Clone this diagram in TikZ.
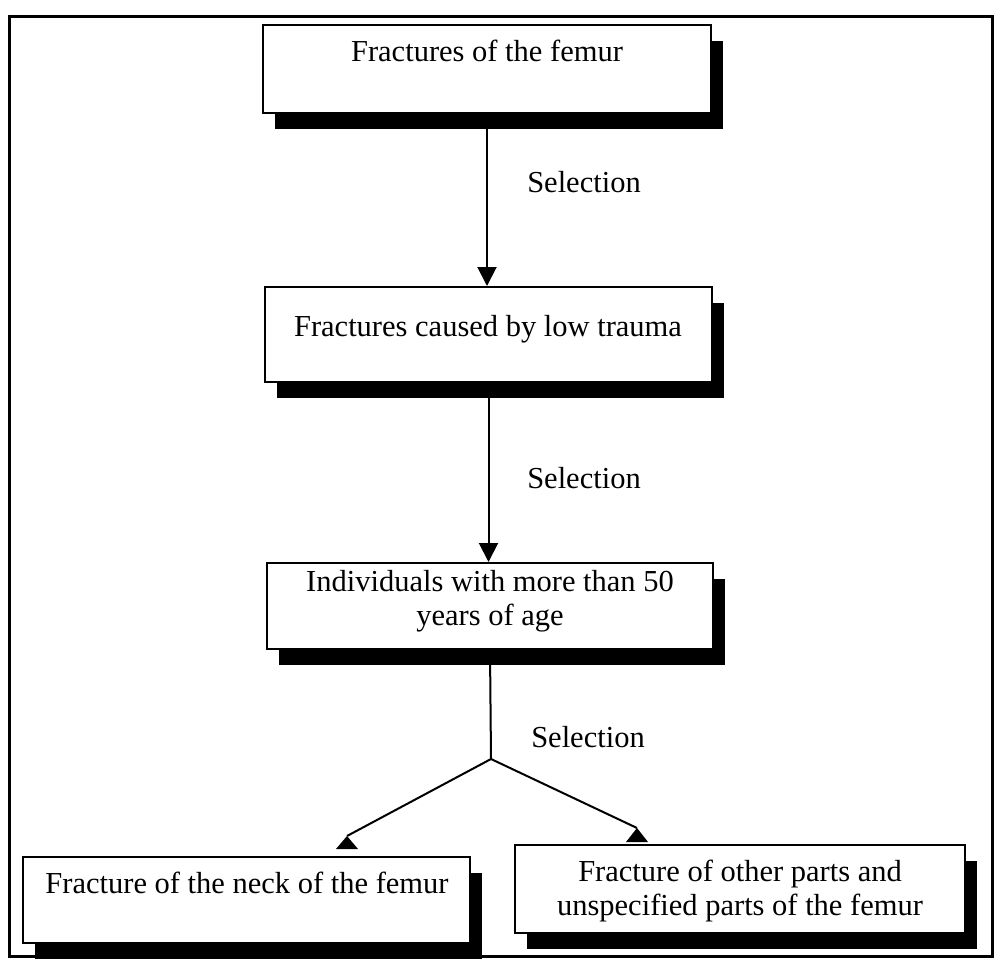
\documentclass[tikz,border=0pt]{standalone}
\usepackage{fontspec}
\setmainfont{Liberation Serif}
\usetikzlibrary{arrows.meta,shadows}
\begin{document}
\begin{tikzpicture}[x=1pt,y=-1pt,
  stagebox/.style={draw=black, line width=2pt, fill=white, inner sep=0pt,
    drop shadow={shadow xshift=12pt, shadow yshift=-16pt, fill=black, opacity=1}},
  stagetext/.style={anchor=base, align=center, font=\fontsize{30.5}{34}\selectfont, inner sep=0pt},
  steplabel/.style={anchor=center, font=\fontsize{30.5}{34}\selectfont, inner sep=0pt},
  link/.style={draw=black, line width=2pt},
  linkarrow/.style={link, -{Triangle[width=19pt,length=19pt]}},
  uptip/.style={fill=black}
]
\useasboundingbox (0,0) rectangle (996,963);
% outer frame
\draw[line width=3pt] (9,17) rectangle (992,956);

% stage boxes
\node[stagebox, minimum width=448pt, minimum height=88pt] (b1) at (487,69) {};
\node[stagebox, minimum width=447pt, minimum height=95pt] (b2) at (488.5,334.5) {};
\node[stagebox, minimum width=446pt, minimum height=86pt] (b3) at (490,606) {};
\node[stagebox, minimum width=447pt, minimum height=86pt] (b4) at (246.5,900) {};
\node[stagebox, minimum width=450pt, minimum height=88pt] (b5) at (740,889) {};

% box texts (base anchor sits on the last line)
\node[stagetext] (t1) at (487,62) {Fractures of the femur};
\node[stagetext] (t2) at (488,336) {Fractures caused by low trauma};
\node[stagetext] (t3) at (490,625) {Individuals with more than 50\\years of age};
\node[stagetext] (t4) at (247,893) {Fracture of the neck of the femur};
\node[stagetext] (t5) at (740,915) {Fracture of other parts and\\unspecified parts of the femur};

% selection labels
\node[steplabel] (s1) at (584,182) {Selection};
\node[steplabel] (s2) at (584,478) {Selection};
\node[steplabel] (s3) at (588,737) {Selection};

% vertical arrows
\draw[linkarrow] (b1.south) -- (b1.south |- b2.north);
\draw[linkarrow] (b2.south) -- (b2.south |- b3.north);

% branching to the two final groups
\coordinate (br) at (491,759);
\coordinate (a4) at (347,836);
\coordinate (a5) at (637,828);
\draw[link] (b3.south) -- (br);
\draw[link] (br) -- (a4);
\draw[link] (br) -- (a5);
\fill[uptip] (a4) -- ++(11,13) -- ++(-22,0) -- cycle;
\fill[uptip] (a5) -- ++(11,14) -- ++(-22,0) -- cycle;
\end{tikzpicture}
\end{document}
